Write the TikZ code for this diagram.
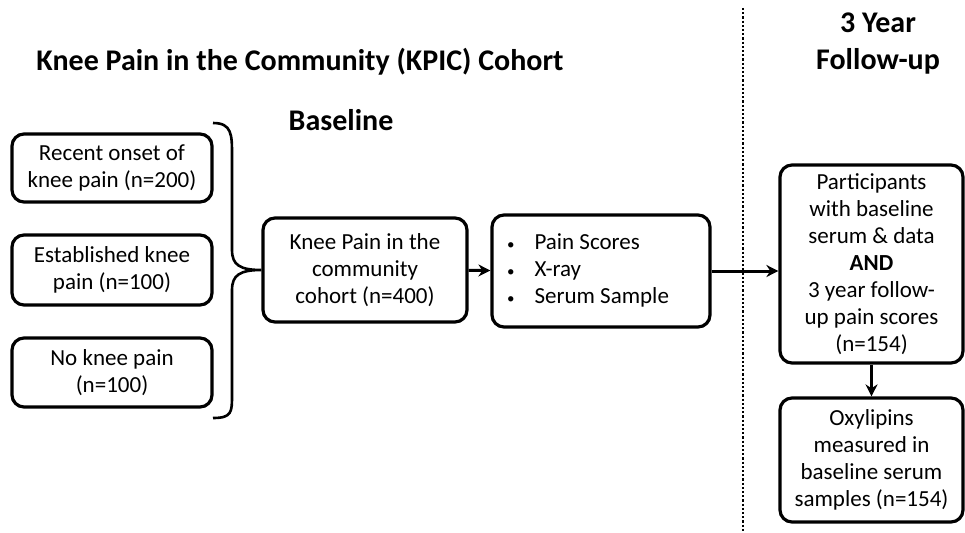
\documentclass[tikz,border=0pt]{standalone}
\usepackage{fontspec}
\setmainfont{Carlito}
\usetikzlibrary{arrows.meta}

\tikzset{
  box/.style={draw, line width=3.2pt, rounded corners=12pt, align=center,
    inner sep=0pt, font=\fontsize{23}{27}\selectfont},
  head/.style={align=center, font=\fontsize{30}{37}\selectfont\bfseries},
  link/.style={line width=3pt, -{Stealth[length=12pt,width=12pt]}}
}

\begin{document}
\begin{tikzpicture}[x=1pt, y=-1pt]
            \useasboundingbox (0,0) rectangle (965,532);
            % Tiêu đề
            \node[head] (title) at (300,62) {Knee Pain in the Community (KPIC) Cohort};
            \node[head] (base) at (341,120) {Baseline};
            \node[head] (year) at (878,44) {3 Year\\Follow-up};
            \draw[dotted, line width=2.2pt] (743,8) -- (743,532);

            % Ba nhóm ban đầu
            \node[box, minimum width=200pt, minimum height=68pt] (recent) at (112,168) {Recent onset of\\knee pain (n=200)};
            \node[box, minimum width=200pt, minimum height=70pt] (established) at (112,270) {Established knee\\pain (n=100)};
            \node[box, minimum width=200pt, minimum height=69pt] (nopain) at (112,372.5) {No knee pain\\(n=100)};

            % Cohort va du lieu
            \node[box, minimum width=204pt, minimum height=104pt] (cohort) at (365,270) {Knee Pain in the\\community\\cohort (n=400)};
            \node[box, minimum width=218pt, minimum height=112pt] (measures) at (601,271)
              {\begin{tabular}{@{}l@{\hspace{20pt}}l@{}}{\fontsize{15}{15}\selectfont\textbullet} & Pain Scores\\ {\fontsize{15}{15}\selectfont\textbullet} & X-ray\\ {\fontsize{15}{15}\selectfont\textbullet} & Serum Sample\end{tabular}\hspace{26pt}};

            % Follow-up
            \node[box, minimum width=183pt, minimum height=198pt] (followup) at (871.5,264) {Participants\\with baseline\\serum \& data\\\textbf{AND}\\3 year follow-\\up pain scores\\(n=154)};
            \node[box, minimum width=183pt, minimum height=124pt] (oxylipins) at (871.5,460) {Oxylipins\\measured in\\baseline serum\\samples (n=154)};

            % Ngoặc nhọn
            \draw[line width=2.6pt] (213,123) .. controls (232,123) and (232,135) .. (232,155) -- (232,250)
              .. controls (232,265) and (240,270) .. (cohort.west)
              .. controls (240,270) and (232,275) .. (232,290) -- (232,395)
              .. controls (232,412) and (232,418) .. (213,418);

            % Mũi tên
            \draw[link] (cohort) -- (measures);
            \draw[link] (measures) -- (followup.west |- measures);
            \draw[link] (followup) -- (oxylipins);
        \end{tikzpicture}
\end{document}
